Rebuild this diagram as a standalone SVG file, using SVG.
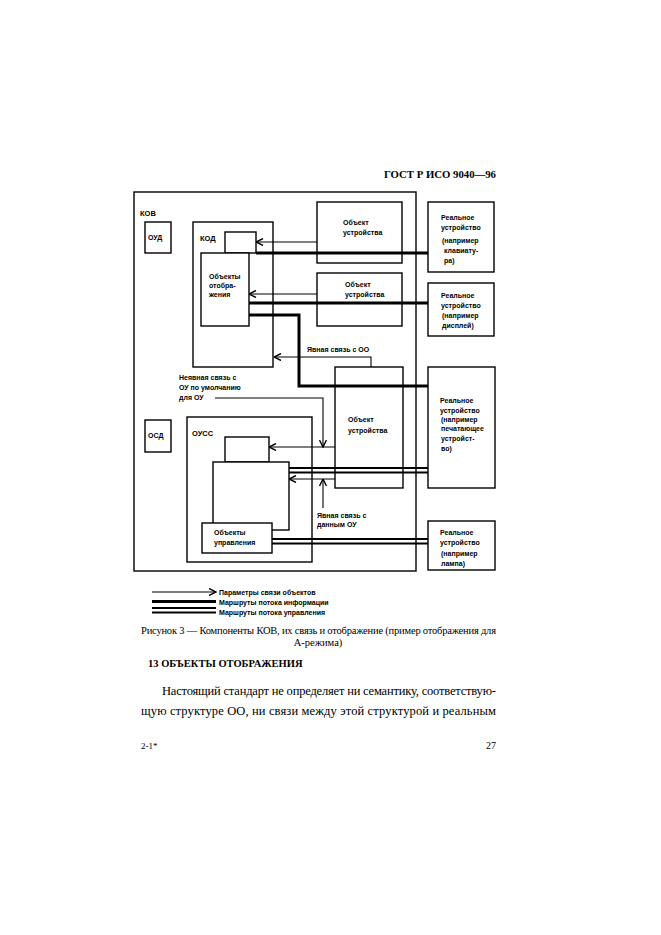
<svg xmlns="http://www.w3.org/2000/svg" width="661" height="935" viewBox="0 0 661 935">
<defs>
<style>
.bx{fill:#fff;stroke:#000;stroke-width:1.4}
.nb{fill:none;stroke:#000;stroke-width:1.4}
.th{fill:none;stroke:#000;stroke-width:1.1}
.info{fill:none;stroke:#000;stroke-width:3}
.ctl{fill:none;stroke:#000;stroke-width:1.8}
.lb{font-family:"Liberation Sans",Arial,sans-serif;font-size:7px;font-weight:bold;fill:#000}
.lg{font-family:"Liberation Sans",Arial,sans-serif;font-size:7.5px;font-weight:bold;fill:#000}
.sf{font-family:"Liberation Serif","Times New Roman",serif;fill:#000}
</style>
<marker id="ah" viewBox="0 0 8 8" refX="7.5" refY="4" markerWidth="8" markerHeight="8" markerUnits="userSpaceOnUse" orient="auto">
<path d="M0.5,0.5 L7.5,4 L0.5,7.5" fill="none" stroke="#000" stroke-width="1.4"/>
</marker>
</defs>
<rect width="661" height="935" fill="#fff"/>

<text class="sf" x="384" y="178" font-size="10.5" font-weight="bold" textLength="112" lengthAdjust="spacingAndGlyphs">ГОСТ Р ИСО 9040—96</text>

<g id="kov">
<rect class="nb" x="134" y="192" width="282" height="379"/>
<text class="lg" x="140" y="216">КОВ</text>
</g>
<g id="oud">
<rect class="bx" x="145" y="222" width="26" height="31"/>
<text class="lb" x="148" y="240">ОУД</text>
</g>
<g id="osd">
<rect class="bx" x="145" y="420" width="26" height="32"/>
<text class="lb" x="148" y="438">ОСД</text>
</g>

<g id="connectors">
<!-- KOD arrows and info lines -->
<path class="th" d="M317,242 H256" marker-end="url(#ah)"/>
<path class="info" d="M256,253 H428"/>
<path class="th" d="M317,294 H249" marker-end="url(#ah)"/>
<path class="info" d="M249,303 H428"/>
<path class="info" d="M249,315 H299 V386 H428"/>
<path class="th" d="M371,367 V357 H274" marker-end="url(#ah)"/>
<!-- implicit link -->
<path class="th" d="M215,398 H323 V447" marker-end="url(#ah)"/>
<path class="th" d="M335,447 H269" marker-end="url(#ah)"/>
<!-- OUSS control -->
<path class="ctl" d="M289,468 H428 M289,472.5 H428"/>
<path class="th" d="M335,479 H289" marker-end="url(#ah)"/>
<path class="th" d="M323,508 V479" marker-end="url(#ah)"/>
<path class="ctl" d="M272,539 H428 M272,543.5 H428"/>
</g>

<g id="kod">
<rect class="nb" x="193" y="222" width="80" height="145"/>
<text class="lg" x="200" y="241">КОД</text>
<rect class="bx" x="225" y="232" width="31" height="21"/>
<rect class="bx" x="201" y="253" width="48" height="73"/>
<text class="lb" x="209" y="279">Объекты</text>
<text class="lb" x="209" y="288">отобра-</text>
<text class="lb" x="209" y="297">жения</text>
</g>

<g id="ob1">
<rect class="nb" x="317" y="202" width="85" height="61"/>
<text class="lb" x="343" y="225">Объект</text>
<text class="lb" x="343" y="235">устройства</text>
</g>
<g id="ob2">
<rect class="nb" x="317" y="273" width="85" height="53"/>
<text class="lb" x="345" y="287">Объект</text>
<text class="lb" x="345" y="297">устройства</text>
</g>
<g id="ob3">
<rect class="nb" x="335" y="367" width="68" height="121"/>
<text class="lb" x="348" y="422">Объект</text>
<text class="lb" x="348" y="433">устройства</text>
</g>

<g id="rd1">
<rect class="bx" x="428" y="202" width="66" height="70"/>
<text class="lb" x="441" y="220">Реальное</text>
<text class="lb" x="441" y="230">устройство</text>
<text class="lb" x="442" y="243">(например</text>
<text class="lb" x="444" y="253">клавиату-</text>
<text class="lb" x="444" y="263">ра)</text>
</g>
<g id="rd2">
<rect class="bx" x="428" y="283" width="66" height="53"/>
<text class="lb" x="441" y="298">Реальное</text>
<text class="lb" x="441" y="308">устройство</text>
<text class="lb" x="442" y="318">(например</text>
<text class="lb" x="442" y="328">дисплей)</text>
</g>
<g id="rd3">
<rect class="bx" x="428" y="367" width="67" height="121"/>
<text class="lb" x="440" y="403">Реальное</text>
<text class="lb" x="440" y="413">устройство</text>
<text class="lb" x="441" y="422">(например</text>
<text class="lb" x="441" y="431">печатающее</text>
<text class="lb" x="441" y="441">устройст-</text>
<text class="lb" x="441" y="451">во)</text>
</g>
<g id="rd4">
<rect class="bx" x="428" y="521" width="67" height="49"/>
<text class="lb" x="440" y="535">Реальное</text>
<text class="lb" x="440" y="545">устройство</text>
<text class="lb" x="441" y="556">(например</text>
<text class="lb" x="441" y="566">лампа)</text>
</g>

<g id="ouss">
<rect class="nb" x="187" y="417" width="125" height="145"/>
<text class="lg" x="192" y="436">ОУСС</text>
<rect class="bx" x="225" y="437" width="44" height="25"/>
<rect class="bx" x="213" y="462" width="76" height="68"/>
<rect class="bx" x="202" y="523" width="70" height="30"/>
<text class="lb" x="214" y="535">Объекты</text>
<text class="lb" x="214" y="545">управления</text>
</g>

<g id="labels">
<text class="lb" x="307" y="352">Явная связь с ОО</text>
<text class="lb" x="179" y="380">Неявная связь с</text>
<text class="lb" x="179" y="390">ОУ по умолчанию</text>
<text class="lb" x="179" y="400">для ОУ</text>
<text class="lb" x="317" y="518">Явная связь с</text>
<text class="lb" x="317" y="527">данным ОУ</text>
</g>

<g id="legend">
<path class="th" d="M152,592 H216" marker-end="url(#ah)"/>
<text class="lb" x="219" y="594.5">Параметры связи объектов</text>
<path class="info" d="M152,601.5 H216"/>
<text class="lb" x="219" y="604.5">Маршруты потока информации</text>
<path class="ctl" d="M152,608 H216 M152,612.5 H216"/>
<text class="lb" x="219" y="614.5">Маршруты потока управления</text>
</g>

<text class="sf" x="141" y="634" font-size="10.5" textLength="355" lengthAdjust="spacing">Рисунок 3 — Компоненты КОВ, их связь и отображение (пример отображения для</text>
<text class="sf" x="318" y="646" font-size="10.5" text-anchor="middle">А-режима)</text>
<text class="sf" x="148" y="667" font-size="10.5" font-weight="bold">13 ОБЪЕКТЫ ОТОБРАЖЕНИЯ</text>
<text class="sf" x="162" y="695" font-size="12.5" textLength="334" lengthAdjust="spacing">Настоящий стандарт не определяет ни семантику, соответствую-</text>
<text class="sf" x="141" y="715" font-size="12.5" textLength="355" lengthAdjust="spacing">щую структуре ОО, ни связи между этой структурой и реальным</text>
<text class="sf" x="141" y="749" font-size="9">2-1*</text>
<text class="sf" x="496" y="749" font-size="10" text-anchor="end">27</text>
</svg>
